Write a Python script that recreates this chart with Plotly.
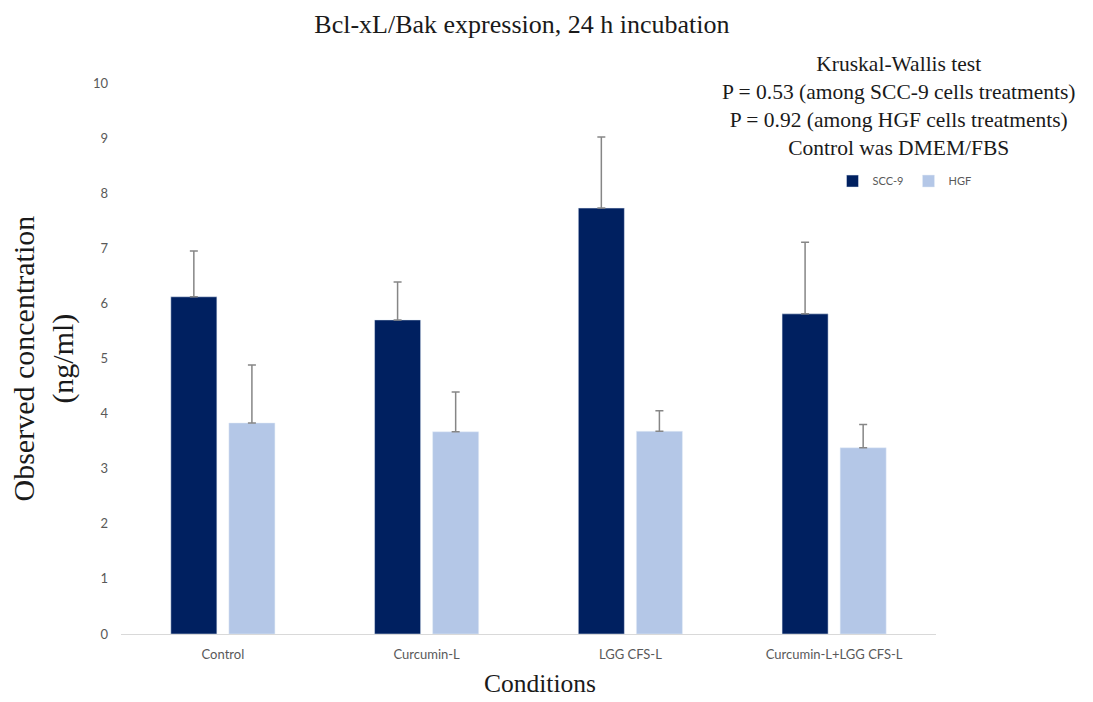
import plotly.graph_objects as go

# Bcl-xL/Bak expression after 24 h incubation (ng/ml)
conditions = ["Control", "Curcumin-L", "LGG CFS-L", "Curcumin-L+LGG CFS-L"]
scc9_mean = [6.12, 5.70, 7.73, 5.81]
scc9_err = [0.83, 0.69, 1.29, 1.30]
hgf_mean = [3.83, 3.67, 3.68, 3.38]
hgf_err = [1.05, 0.72, 0.37, 0.42]
y_ticks = list(range(0, 11))

serif = "Liberation Serif, Times New Roman, serif"
sans = "Lato, Noto Sans, sans-serif"
err_style = dict(type="data", symmetric=False, color="#868686", thickness=1.5, width=4)

fig = go.Figure()
fig.add_trace(go.Bar(
    name="SCC-9", x=conditions, y=scc9_mean, marker_color="#002060",
    error_y=dict(array=scc9_err, arrayminus=[0] * len(scc9_err), **err_style),
))
fig.add_trace(go.Bar(
    name="HGF", x=conditions, y=hgf_mean, marker_color="#B4C7E7",
    error_y=dict(array=hgf_err, arrayminus=[0] * len(hgf_err), **err_style),
))

fig.update_layout(
    width=1093, height=702,
    margin=dict(l=121, r=157, t=83, b=68),
    paper_bgcolor="white", plot_bgcolor="white",
    barmode="group", bargap=0.43, bargroupgap=0.207,
    title=dict(text="Bcl-xL/Bak expression, 24 h incubation", x=0.4775, xanchor="center",
               y=0.966, yanchor="middle", font=dict(family=serif, size=26, color="#1a1a1a")),
    legend=dict(orientation="h", x=0.873, y=0.822, xanchor="left", yanchor="middle",
                font=dict(family=sans, size=11, color="#595959"), itemwidth=30,
                bgcolor="rgba(0,0,0,0)", traceorder="normal"),
    showlegend=True,
)
fig.update_xaxes(
    showline=True, linecolor="#d9d9d9", linewidth=1, showgrid=False, ticks="",
    tickfont=dict(family=sans, size=13, color="#595959"), ticklabelstandoff=8,
)
fig.update_yaxes(
    range=[0, 10], tickvals=y_ticks, showline=False, showgrid=False, zeroline=False, ticks="",
    tickfont=dict(family=sans, size=13, color="#595959"), ticklabelstandoff=12,
)

# axis titles
fig.add_annotation(
    text="Observed concentration<br>(ng/ml)", textangle=-90,
    xref="paper", yref="paper", x=-0.0945, y=0.50, xanchor="center", yanchor="middle",
    showarrow=False, font=dict(family=serif, size=30, color="#1a1a1a"),
)
fig.add_annotation(
    text="Conditions", xref="paper", yref="paper", x=0.514, y=-0.1198,
    xanchor="center", yanchor="bottom", showarrow=False,
    font=dict(family=serif, size=25.5, color="#1a1a1a"),
)

# statistics note
fig.add_annotation(
    text=("Kruskal-Wallis test<br>P = 0.53 (among SCC-9 cells treatments)<br>"
          "P = 0.92 (among HGF cells treatments)<br>Control was DMEM/FBS"),
    xref="paper", yref="paper", x=0.954, y=1.06, xanchor="center", yanchor="top",
    align="center", showarrow=False,
    font=dict(family=serif, size=21.5, color="#1a1a1a"),
)

fig.write_html("out.html")
